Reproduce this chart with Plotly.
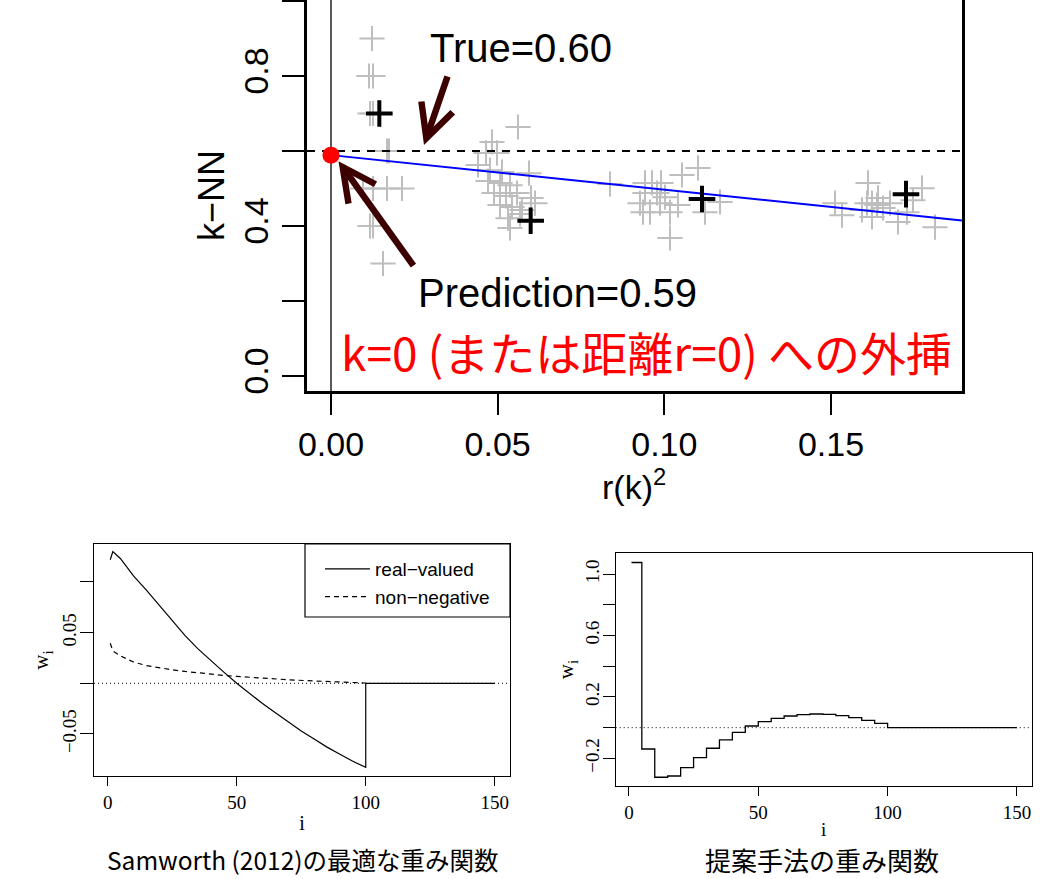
import plotly.graph_objects as go

# ---------------- Top panel: k-NN estimates vs squared k-NN distance ----------------
gray_r2 = [
    0.0123, 0.0114, 0.0126, 0.0117, 0.0126, 0.0168, 0.0174, 0.0096, 0.0126, 0.0168, 0.0213, 0.0117, 0.0126, 0.0156,
    0.0561, 0.0483, 0.0465, 0.0498, 0.0441, 0.0477, 0.0513, 0.0594, 0.0471, 0.0507, 0.0537, 0.0489, 0.0525, 0.0558,
    0.0600, 0.0507, 0.0543, 0.0573, 0.0531, 0.0567, 0.0537, 0.0612,
    0.0837, 0.0942, 0.0963, 0.0990, 0.1053, 0.1101, 0.1122, 0.1167, 0.1017, 0.0936, 0.0957, 0.0942, 0.0978, 0.1002,
    0.1017, 0.1041, 0.0987, 0.0927,
    0.1512, 0.1533, 0.1611, 0.1608, 0.1623, 0.1638, 0.1623, 0.1641, 0.1701, 0.1728, 0.1773, 0.1746, 0.1812, 0.1656,
    0.1677, 0.1593,
]
gray_knn = [
    0.90, 0.80, 0.80, 0.70, 0.70, 0.60, 0.60, 0.50, 0.50, 0.50, 0.50, 0.40, 0.40, 0.30,
    0.664, 0.624, 0.595, 0.595, 0.563, 0.549, 0.544, 0.541, 0.520, 0.515, 0.509, 0.488, 0.480, 0.488,
    0.475, 0.456, 0.451, 0.443, 0.421, 0.432, 0.395, 0.461,
    0.512, 0.515, 0.515, 0.515, 0.536, 0.555, 0.437, 0.464, 0.368, 0.437, 0.437, 0.488, 0.488, 0.477,
    0.437, 0.456, 0.461, 0.461,
    0.461, 0.429, 0.515, 0.461, 0.461, 0.456, 0.424, 0.475, 0.411, 0.437, 0.501, 0.469, 0.397, 0.448,
    0.461, 0.443,
]
black_r2 = [0.0145, 0.0599, 0.1113, 0.1725]
black_knn = [0.700, 0.414, 0.472, 0.485]
true_value = 0.60
fit_intercept = 0.589
fit_slope = -0.92
pred_r2 = [0.0]
pred_value = [0.589]

top_xticks = [0.0, 0.05, 0.10, 0.15]
top_xticklabels = ["0.00", "0.05", "0.10", "0.15"]
top_yticks = [0.0, 0.4, 0.8]
top_yticklabels = ["0.0", "0.4", "0.8"]
top_yminor = [0.2, 0.6, 1.0]
top_xrange = [-0.0072, 0.1893]
top_yrange = [-0.04, 1.0027]

# ---------------- Bottom-left: Samworth (2012) optimal weights ----------------
real_i = [1, 2, 5, 10, 15, 20, 25, 30, 35, 40, 45, 50, 55, 60, 65, 70, 75, 80, 85, 90, 95, 100, 100, 150]
real_w = [0.122, 0.130, 0.123, 0.106, 0.092, 0.077, 0.061, 0.047, 0.034, 0.022, 0.011, 0.000, -0.010,
          -0.020, -0.029, -0.038, -0.047, -0.055, -0.063, -0.070, -0.077, -0.083, 0.0, 0.0]
nonneg_i = [1, 2, 5, 10, 15, 20, 25, 30, 35, 40, 45, 50, 60, 70, 80, 90, 100]
nonneg_w = [0.0395, 0.032, 0.027, 0.021, 0.0175, 0.0152, 0.0133, 0.0117, 0.0102, 0.0089, 0.0078, 0.0068,
            0.0049, 0.0035, 0.0023, 0.0012, 0.0003]
bl_xticks = [0, 50, 100, 150]
bl_yticks = [-0.05, 0.05]
bl_yticklabels = ["\u22120.05", "0.05"]
bl_yminor = [0.0, 0.10]
bl_xrange = [-5.3, 155.9]
bl_yrange = [-0.0915, 0.1375]

# ---------------- Bottom-right: proposed method weights (step function) ----------------
prop_i = [1, 5, 10, 15, 20, 25, 30, 35, 40, 45, 50, 55, 60, 65, 70, 75, 80, 85, 90, 95, 100, 150]
prop_w = [1.076, -0.139, -0.323, -0.315, -0.260, -0.195, -0.134, -0.080, -0.030, 0.011, 0.039, 0.061,
          0.076, 0.085, 0.089, 0.087, 0.078, 0.065, 0.048, 0.028, 0.0, 0.0]
br_xticks = [0, 50, 100, 150]
br_yticks = [-0.2, 0.2, 0.6, 1.0]
br_yticklabels = ["\u22120.2", "0.2", "0.6", "1.0"]
br_yminor = [0.0, 0.4, 0.8]
br_xrange = [-5.1, 155.7]
br_yrange = [-0.380, 1.136]

W, H = 1061, 879
SANS = "Liberation Sans, Arial, sans-serif"
SERIF = "Liberation Serif, Times New Roman, serif"
CJK = "Noto Sans CJK JP, sans-serif"


def fx(p):
    return p / W


def fy(p):
    return 1 - p / H


fig = go.Figure()

# --- top panel traces ---
fig.add_trace(go.Scatter(x=gray_r2, y=gray_knn, mode="markers", showlegend=False,
                         marker=dict(symbol="cross-thin-open", size=18, color="#bebebe",
                                     line=dict(width=2, color="#bebebe")),
                         xaxis="x", yaxis="y"))
fig.add_trace(go.Scatter(x=[0, 0], y=top_yrange, mode="lines", showlegend=False,
                         line=dict(color="#222222", width=1.5), xaxis="x", yaxis="y"))
fig.add_trace(go.Scatter(x=top_xrange, y=[true_value, true_value], mode="lines", showlegend=False,
                         line=dict(color="black", width=2, dash="8px,7px"), xaxis="x", yaxis="y"))
fig.add_trace(go.Scatter(x=[0, top_xrange[1]],
                         y=[fit_intercept, fit_intercept + fit_slope * top_xrange[1]],
                         mode="lines", showlegend=False, line=dict(color="#0000ff", width=2),
                         xaxis="x", yaxis="y"))
fig.add_trace(go.Scatter(x=black_r2, y=black_knn, mode="markers", showlegend=False,
                         marker=dict(symbol="cross-thin-open", size=19, color="black",
                                     line=dict(width=4, color="black")),
                         xaxis="x", yaxis="y"))
fig.add_trace(go.Scatter(x=pred_r2, y=pred_value, mode="markers", showlegend=False, cliponaxis=False,
                         marker=dict(symbol="circle", size=17, color="#ff0000"),
                         xaxis="x", yaxis="y"))

# --- bottom-left traces ---
fig.add_trace(go.Scatter(x=bl_xrange, y=[0, 0], mode="lines", showlegend=False,
                         line=dict(color="black", width=1, dash="1px,3px"), xaxis="x2", yaxis="y2"))
fig.add_trace(go.Scatter(x=nonneg_i, y=nonneg_w, mode="lines", name="non\u2212negative",
                         line=dict(color="black", width=1.2, dash="5px,4px"), xaxis="x2", yaxis="y2"))
fig.add_trace(go.Scatter(x=real_i, y=real_w, mode="lines", name="real\u2212valued",
                         line=dict(color="black", width=1.2), xaxis="x2", yaxis="y2"))

# --- bottom-right traces ---
fig.add_trace(go.Scatter(x=br_xrange, y=[0, 0], mode="lines", showlegend=False,
                         line=dict(color="black", width=1, dash="1px,3px"), xaxis="x3", yaxis="y3"))
fig.add_trace(go.Scatter(x=prop_i, y=prop_w, mode="lines", showlegend=False, line_shape="hv",
                         line=dict(color="black", width=1.3), xaxis="x3", yaxis="y3"))

axis_common = dict(showgrid=False, zeroline=False, showline=True, linecolor="black", ticks="outside",
                   tickcolor="black", automargin=False)

fig.update_layout(
    width=W, height=H, margin=dict(l=0, r=0, t=0, b=0, pad=0, autoexpand=False),
    paper_bgcolor="white", plot_bgcolor="white",
    xaxis=dict(**axis_common, domain=[fx(307), fx(962)], range=top_xrange, anchor="y",
               linewidth=3, ticklen=21, tickwidth=2, tickvals=top_xticks, ticktext=top_xticklabels,
               tickfont=dict(family=SANS, size=34, color="black")),
    yaxis=dict(**axis_common, domain=[fy(391), 1.0], range=top_yrange, anchor="x", mirror=True,
               linewidth=3, ticklen=22, tickwidth=2, tickvals=top_yticks, ticktext=top_yticklabels,
               minor=dict(tickvals=top_yminor, ticks="outside", ticklen=22, tickwidth=2, tickcolor="black"),
               tickangle=-90, tickfont=dict(family=SANS, size=34, color="black"),
               title=dict(text="k\u2212NN", font=dict(family=SANS, size=36, color="black"), standoff=2)),
    xaxis2=dict(**axis_common, domain=[fx(94), fx(510)], range=bl_xrange, anchor="y2", mirror=True,
                linewidth=1.2, ticklen=9, tickwidth=1, tickvals=bl_xticks,
                tickfont=dict(family=SERIF, size=19, color="black"),
                title=dict(text="i", font=dict(family=SERIF, size=20, color="black"), standoff=4)),
    yaxis2=dict(**axis_common, domain=[fy(776), fy(544)], range=bl_yrange, anchor="x2", mirror=True,
                linewidth=1.2, ticklen=13, tickwidth=1, tickvals=bl_yticks, ticktext=bl_yticklabels,
                ticklabelstandoff=-4,
                minor=dict(tickvals=bl_yminor, ticks="outside", ticklen=13, tickwidth=1, tickcolor="black"),
                tickangle=-90, tickfont=dict(family=SERIF, size=19, color="black"),
                title=dict(text="w<sub>i</sub>", font=dict(family=SERIF, size=21, color="black"), standoff=4)),
    xaxis3=dict(**axis_common, domain=[fx(615.7), fx(1031.7)], range=br_xrange, anchor="y3", mirror=True,
                linewidth=1.2, ticklen=9, tickwidth=1, tickvals=br_xticks,
                tickfont=dict(family=SERIF, size=19, color="black"),
                title=dict(text="i", font=dict(family=SERIF, size=19, color="black"), standoff=0)),
    yaxis3=dict(**axis_common, domain=[fy(786), fy(553.3)], range=br_yrange, anchor="x3", mirror=True,
                linewidth=1.2, ticklen=12, tickwidth=1, tickvals=br_yticks, ticktext=br_yticklabels,
                ticklabelstandoff=-4,
                minor=dict(tickvals=br_yminor, ticks="outside", ticklen=12, tickwidth=1, tickcolor="black"),
                tickangle=-90, tickfont=dict(family=SERIF, size=19, color="black"),
                title=dict(text="w<sub>i</sub>", font=dict(family=SERIF, size=21, color="black"), standoff=2)),
    showlegend=True,
    legend=dict(x=fx(320), y=fy(550), xanchor="left", yanchor="top", bgcolor="rgba(0,0,0,0)",
                borderwidth=0, font=dict(family=SANS, size=19, color="black"), traceorder="reversed",
                tracegroupgap=0, itemwidth=45),
)

# legend frame of the bottom-left panel
fig.add_shape(type="rect", xref="paper", yref="paper", x0=fx(305), x1=fx(510), y0=fy(617), y1=fy(544),
              line=dict(color="black", width=1.2), fillcolor="white", layer="below")

ann = []
ann.append(dict(text="r(k)<sup>2</sup>", x=fx(634), y=fy(484), xref="paper", yref="paper", showarrow=False,
                font=dict(family=SANS, size=34, color="black"), xanchor="center", yanchor="middle"))
ann.append(dict(text="True=0.60", x=fx(521), y=fy(48), xref="paper", yref="paper", showarrow=False,
                font=dict(family=SANS, size=40, color="black"), xanchor="center", yanchor="middle"))
ann.append(dict(text="Prediction=0.59", x=fx(557), y=fy(293), xref="paper", yref="paper", showarrow=False,
                font=dict(family=SANS, size=40, color="black"), xanchor="center", yanchor="middle"))
ann.append(dict(text="", x=0.0279, y=0.616, xref="x", yref="y", showarrow=True, ax=24, ay=-70,
                arrowhead=5, arrowwidth=6.5, arrowsize=1.0, arrowcolor="#3c0000"))
ann.append(dict(text="", x=0.00225, y=0.573, xref="x", yref="y", showarrow=True, ax=76, ay=106,
                arrowhead=5, arrowwidth=6.5, arrowsize=1.0, arrowcolor="#3c0000"))
ann.append(dict(text="k=0 (または距離r=0) への外挿", x=fx(646), y=fy(351), xref="paper", yref="paper",
                showarrow=False, font=dict(family=CJK, size=46, color="#ff0000"),
                xanchor="center", yanchor="middle"))
ann.append(dict(text="Samworth (2012)の最適な重み関数", x=fx(303), y=0.0, xref="paper", yref="paper",
                showarrow=False, font=dict(family=CJK, size=24.5, color="black"),
                xanchor="center", yanchor="bottom"))
ann.append(dict(text="提案手法の重み関数", x=fx(822), y=0.0, xref="paper", yref="paper",
                showarrow=False, font=dict(family=CJK, size=26, color="black"),
                xanchor="center", yanchor="bottom", borderpad=0))
fig.update_layout(annotations=ann)

fig.write_html("out.html", config={"displayModeBar": False},
               post_script="document.body.style.margin='0px';")
